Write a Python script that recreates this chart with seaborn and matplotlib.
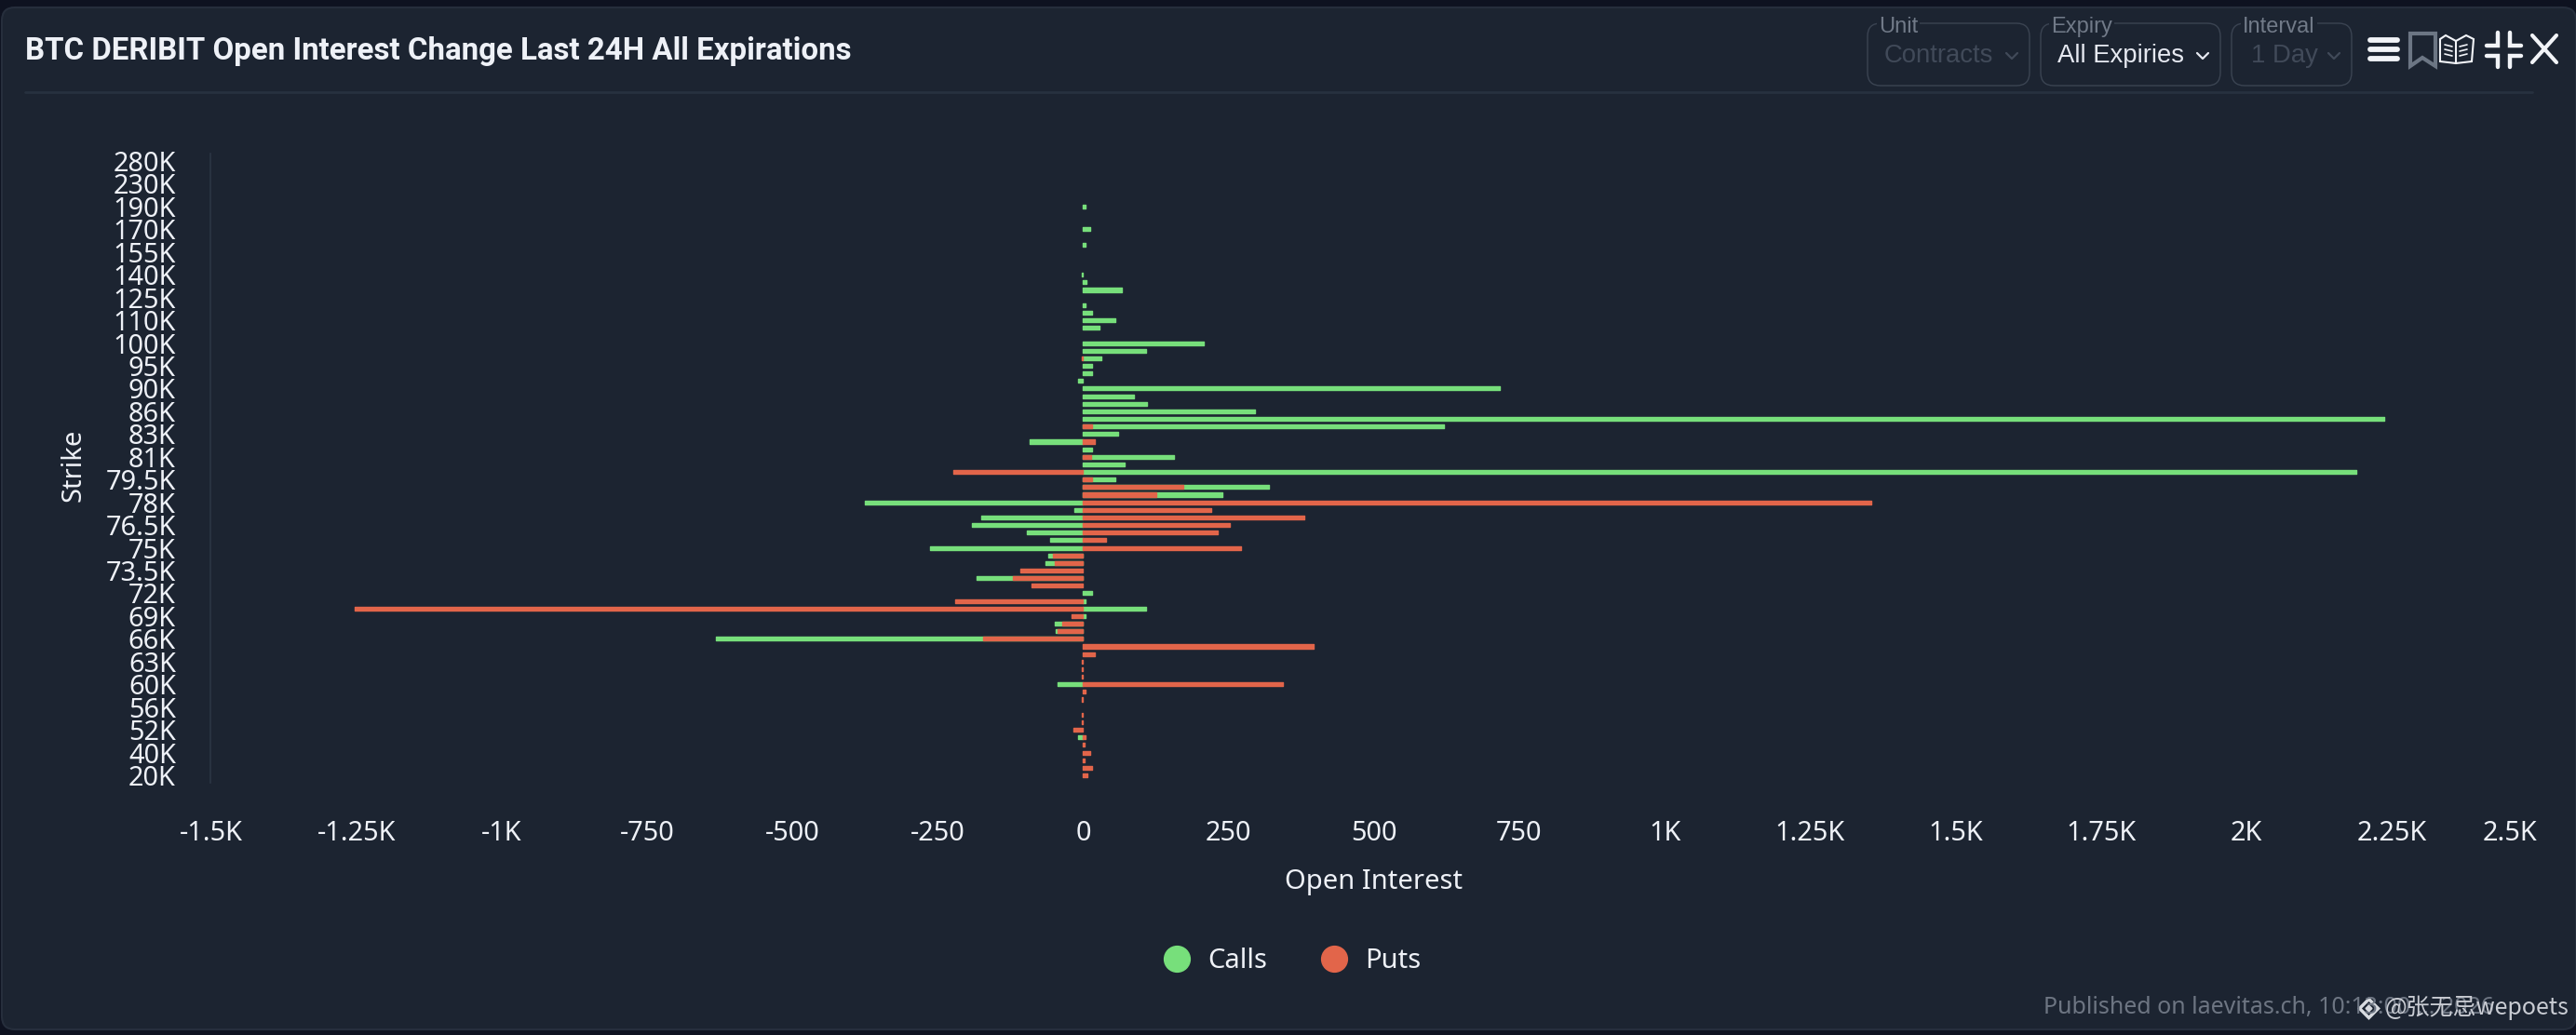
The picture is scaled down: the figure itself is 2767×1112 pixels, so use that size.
import matplotlib
matplotlib.use("Agg")
import matplotlib.pyplot as plt
from matplotlib.lines import Line2D
from matplotlib.patches import FancyBboxPatch, Polygon
import seaborn as sns
import pandas as pd

W, H = 2767, 1112

strikes = ["280K","260K","240K","230K","220K","210K","190K","180K","175K","170K","165K","160K",
           "155K","150K","145K","140K","135K","130K","125K","120K","115K","110K","108K","105K",
           "100K","98K","96K","95K","94K","92K","90K","88K","87K","86K","85K","84K",
           "83K","82.5K","82K","81K","80.5K","80K","79.5K","79K","78.5K","78K","77.5K","77K",
           "76.5K","76K","75.5K","75K","74.5K","74K","73.5K","73K","72.5K","72K","71K","70K",
           "69K","68K","67K","66K","65K","64K","63K","62K","61K","60K","58K","57K",
           "56K","55K","54K","52K","50K","45K","40K","35K","30K","20K"]
calls = [0,0,0,0,0,0,4,0,0,12,0,4,
         0,0,0,-3,6,67,0,4,15,56,28,0,
         207,108,32,16,16,-8,716,88,109,296,2237,605,
         60,-92,15,143,72,2189,40,147,115,-375,-15,-176,
         -192,-96,-56,-263,-8,-16,0,-64,0,16,4,108,
         4,-12,-3,-459,0,0,0,0,0,-44,0,0,
         0,0,0,0,-8,0,0,0,0,0]
puts = [0,0,0,0,0,0,0,0,0,0,0,0,
        0,0,0,0,0,0,0,0,0,0,0,0,
        0,0,-3,0,0,0,0,0,0,0,0,16,
        0,20,0,13,0,-224,16,173,125,1356,220,380,
        252,232,40,272,-52,-48,-108,-120,-88,0,-220,-1252,
        -20,-36,-44,-172,396,20,-3,-3,-3,344,4,-3,
        0,-3,-3,-16,4,3,12,3,16,8]
x_ticks = [-1500,-1250,-1000,-750,-500,-250,0,250,500,750,1000,1250,1500,1750,2000,2250,2500]
x_labels = ["-1.5K","-1.25K","-1K","-750","-500","-250","0","250","500","750","1K","1.25K","1.5K","1.75K","2K","2.25K","2.5K"]
y_labels = ["280K","230K","190K","170K","155K","140K","125K","110K","100K","95K","90K","86K","83K","81K",
            "79.5K","78K","76.5K","75K","73.5K","72K","69K","66K","63K","60K","56K","52K","40K","20K"]

GREEN, RED = "#77df7b", "#e2654a"
BG, OUTER = "#1c2431", "#0e1220"
TXT = "#eef1f7"

sns.set_theme(style="dark", rc={"axes.facecolor": BG, "figure.facecolor": OUTER})
plt.rcParams["font.family"] = ["Noto Sans", "DejaVu Sans"]

fig = plt.figure(figsize=(W/100, H/100), dpi=100)
bg = fig.add_axes([0, 0, 1, 1], zorder=0)
bg.set_xlim(0, W); bg.set_ylim(H, 0); bg.axis("off")
bg.add_patch(FancyBboxPatch((2, 8), W-2, H-14, boxstyle="round,pad=0,rounding_size=14", fc=BG, ec="#262e3c", lw=1.5))
bg.plot([27, 2720], [99, 99], color="#27313f", lw=2)

bg.text(27, 55, "BTC DERIBIT Open Interest Change Last 24H All Expirations", family="Roboto",
        weight="semibold", fontsize=23.8, color=TXT, va="center", ha="left")

# header controls
for x0, x1, lab, lx, val, vx, col in [(2006, 2180, "Unit", 2018, "Contracts", 2024, "#414a59"),
                                      (2192, 2385, "Expiry", 2203, "All Expiries", 2210, "#e6e9f1"),
                                      (2397, 2526, "Interval", 2409, "1 Day", 2418, "#414a59")]:
    bg.add_patch(FancyBboxPatch((x0, 25), x1-x0, 67, boxstyle="round,pad=0,rounding_size=14", fc="none",
                                ec="#3b4452", lw=1))
    bg.text(lx, 29, lab, family="Liberation Sans", fontsize=17, color="#717a88", va="center", ha="left",
            bbox=dict(fc=BG, ec="none", pad=1.5))
    bg.text(vx, 60, val, family="Liberation Sans", fontsize=19.8, color=col, va="center", ha="left")
    cx = x1 - 19
    bg.plot([cx-6, cx, cx+6], [57, 63, 57], color=col, lw=1.6)

# icons
for y in (43, 53, 63):
    bg.plot([2546, 2575], [y, y], color="#f2f4f8", lw=4.2, solid_capstyle="round")
bg.add_patch(Polygon([(2589, 36), (2616, 36), (2616, 71), (2602, 62), (2589, 71)], closed=True, fc="none", ec="#6c7684", lw=3))
bg.plot([2638, 2638], [44, 68], color="#f2f4f8", lw=1.5)
bg.add_patch(Polygon([(2638, 44), (2627, 38), (2621, 42), (2621, 66), (2638, 68), (2655, 66), (2657, 42), (2649, 38)],
                     closed=True, fc="none", ec="#f2f4f8", lw=1.5))
for dy in (50, 55, 60):
    bg.plot([2626, 2634], [dy-2, dy], color="#f2f4f8", lw=1.2)
    bg.plot([2642, 2650], [dy, dy-2], color="#f2f4f8", lw=1.2)
for xs, ys in [([2683, 2683, 2671], [35, 49, 49]), ([2696, 2696, 2708], [35, 49, 49]),
               ([2683, 2683, 2671], [72, 60, 60]), ([2696, 2696, 2708], [72, 60, 60])]:
    bg.plot(xs, ys, color="#f2f4f8", lw=3.2, solid_joinstyle="miter")
bg.plot([2720, 2746], [38, 67], color="#f2f4f8", lw=3)
bg.plot([2746, 2720], [38, 67], color="#f2f4f8", lw=3)

# footer
bg.text(2195, 1083, "Published on laevitas.ch, 10:13:00 … 2026", fontsize=18, color="#6d7582", va="center", ha="left")
bg.text(2562, 1083, "@张无忌wepoets", family=["Noto Sans CJK SC", "DejaVu Sans"], fontsize=18, color="#c9ccd3",
        va="center", ha="left")
bg.plot([2544], [1083], marker="D", ms=10, mfc="none", mec="#d8dbe0", mew=2.5)
bg.plot([2544], [1083], marker="D", ms=3.5, color="#d8dbe0")

# chart
left, right, top, bottom = 226.5, 2725, 165, 841
ax = fig.add_axes([left/W, 1-bottom/H, (right-left)/W, (bottom-top)/H], zorder=1)
ax.patch.set_visible(False)

df = pd.DataFrame({"strike": strikes, "calls": calls, "puts": puts})
# stacked: a call of the same sign as the put sits beyond the put
df["calls_end"] = [c+p if c*p > 0 else c for c, p in zip(df["calls"], df["puts"])]

sns.barplot(data=df, x="calls_end", y="strike", order=strikes, orient="h", color=GREEN, saturation=1,
            width=0.5, ax=ax, errorbar=None, linewidth=0)
sns.barplot(data=df, x="puts", y="strike", order=strikes, orient="h", color=RED, saturation=1,
            width=0.5, ax=ax, errorbar=None, linewidth=0)
# soften the bar ends; empty bars stay invisible
for bar in ax.patches:
    if bar.get_width() == 0:
        bar.set_visible(False)
    else:
        bar.set(edgecolor=bar.get_facecolor(), linewidth=1.0, joinstyle="round")

ax.set_xlim(-1500, 2500)
ax.set_ylim(81+(bottom-833)/8.148, -(173-top)/8.148)
ax.set_yticks(range(0, len(strikes), 3), y_labels)
ax.set_xticks(x_ticks, x_labels)
ax.tick_params(axis="y", length=0, pad=27, labelsize=20.8, labelcolor=TXT)
ax.tick_params(axis="x", length=0, pad=29, labelsize=20.8, labelcolor=TXT)
ax.get_xticklabels()[-1].set_ha("right")
ax.set_xlabel(""); ax.set_ylabel("")
sns.despine(ax=ax, top=True, right=True, bottom=True, left=False)
ax.spines["left"].set_color("#2b3544")
ax.spines["left"].set_linewidth(1.2)
ax.grid(False)

bg.text(1476, 947, "Open Interest", fontsize=21, color=TXT, ha="center", va="center")
bg.text(79, 500, "Strike", fontsize=21, color=TXT, ha="center", va="center", rotation=90)

handles = [Line2D([], [], ls="", marker="o", ms=20, color=GREEN, label="Calls"),
           Line2D([], [], ls="", marker="o", ms=20, color=RED, label="Puts")]
fig.legend(handles=handles, loc="center", bbox_to_anchor=(1388/W, 1-1033/H), ncol=2, frameon=False,
           fontsize=21, labelcolor=TXT, handletextpad=0.65, columnspacing=1.95, handlelength=1.0)

fig.savefig("out.png", dpi=100, facecolor=OUTER)
